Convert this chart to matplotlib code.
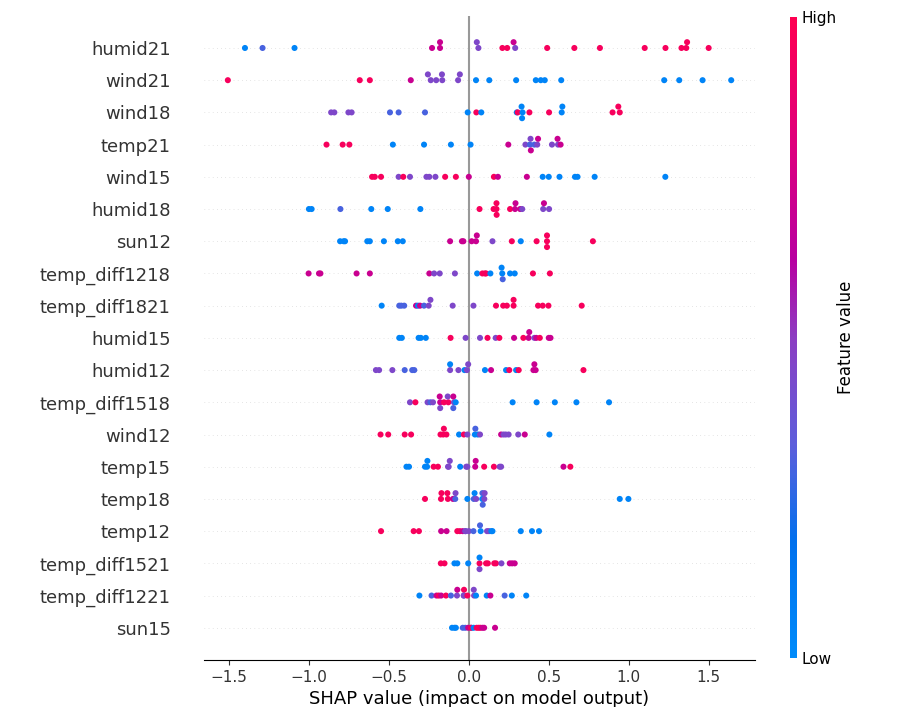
import numpy as np
import matplotlib
matplotlib.use("Agg")
import matplotlib.pyplot as plt
from matplotlib.colors import LinearSegmentedColormap

# feature names, top row first
features = ["humid21", "wind21", "wind18", "temp21", "wind15", "humid18", "sun12",
            "temp_diff1218", "temp_diff1821", "humid15", "humid12", "temp_diff1518",
            "wind12", "temp15", "temp18", "temp12", "temp_diff1521", "temp_diff1221", "sun15"]

# feature value level codes
levels = {"b": 0.05, "B": 0.3, "p": 0.45, "m": 0.7, "r": 0.95}

# SHAP values and colour codes per feature
humid21 = [-1.40, -1.29, -1.09, -0.23, -0.18, -0.18, 0.06, 0.05, 0.21, 0.24, 0.29, 0.28,
           0.49, 0.66, 0.82, 1.10, 1.23, 1.33, 1.36, 1.365, 1.50]
humid21_c = "bBbmmmpprrpmrrrrrrrrr"
wind21 = [-1.507, -0.682, -0.619, -0.363, -0.238, -0.256, -0.204, -0.166, -0.168, -0.067,
          -0.056, 0.045, 0.128, 0.296, 0.419, 0.450, 0.475, 0.578, 1.222, 1.316, 1.462, 1.641]
wind21_c = "rrrmpppppppbbbbbbbbbbb"
wind18 = [-0.861, -0.841, -0.753, -0.733, -0.493, -0.439, -0.274, -0.007, 0.047, 0.078,
          0.300, 0.306, 0.336, 0.330, 0.333, 0.379, 0.502, 0.581, 0.585, 0.899, 0.944, 0.935]
wind18_c = "ppppBBBbrbbrbbbrrbbrrr"
temp21 = [-0.890, -0.789, -0.747, -0.475, -0.280, -0.112, 0.011, 0.247, 0.354, 0.382,
          0.386, 0.388, 0.410, 0.428, 0.433, 0.520, 0.558, 0.555, 0.574]
temp21_c = "rrrbbbbmpBpmBpmppmm"
wind15 = [-0.605, -0.588, -0.549, -0.439, -0.410, -0.368, -0.265, -0.247, -0.209, -0.148,
          -0.081, 0.000, 0.157, 0.182, 0.363, 0.462, 0.500, 0.567, 0.664, 0.680, 0.787, 1.229]
wind15_c = "rrrprpppprrmrmmbbbbbbb"
humid18 = [-1.000, -0.983, -0.803, -0.610, -0.507, -0.303, 0.067, 0.155, 0.173, 0.173,
           0.174, 0.258, 0.289, 0.292, 0.321, 0.334, 0.465, 0.470, 0.502]
humid18_c = "bbBbbbrrrrrrmmmppmp"
sun12 = [-0.805, -0.783, -0.774, -0.635, -0.619, -0.531, -0.444, -0.413, -0.117, -0.043,
         -0.034, 0.018, 0.045, 0.050, 0.148, 0.269, 0.325, 0.424, 0.489, 0.489, 0.489, 0.776]
sun12_c = "bbbbbbbbmmmmmmprbrrrrr"
temp_diff1218 = [-1.002, -0.937, -0.928, -0.702, -0.619, -0.247, -0.217, -0.182, -0.087,
                 0.052, 0.085, 0.101, 0.108, 0.135, 0.209, 0.205, 0.212, 0.258, 0.287,
                 0.401, 0.507]
temp_diff1218_c = "mmmmmmpppbrrrbbbBbbrr"
temp_diff1821 = [-0.545, -0.435, -0.422, -0.404, -0.330, -0.318, -0.305, -0.280, -0.251,
                 -0.240, -0.101, 0.029, 0.170, 0.215, 0.238, 0.280, 0.280, 0.433, 0.462,
                 0.498, 0.706]
temp_diff1821_c = "bBBBmbmBpppprrrrrrrrr"
humid15 = [-0.435, -0.419, -0.314, -0.300, -0.269, -0.114, -0.020, 0.070, 0.117, 0.168,
           0.191, 0.283, 0.341, 0.374, 0.378, 0.410, 0.422, 0.444, 0.500, 0.511]
humid15_c = "bbbbbrpprprmrmmpmrmm"
humid12 = [-0.581, -0.561, -0.478, -0.401, -0.354, -0.341, -0.117, -0.117, -0.065, -0.027,
           -0.012, -0.004, 0.101, 0.139, 0.233, 0.253, 0.296, 0.312, 0.404, 0.410, 0.418,
           0.717]
humid12_c = "pppBBBpbpbppbmbrbrmmmr"
temp_diff1518 = [-0.368, -0.334, -0.258, -0.240, -0.224, -0.179, -0.182, -0.179, -0.155,
                 -0.128, -0.132, -0.093, -0.097, -0.097, -0.082, 0.274, 0.424, 0.538,
                 0.673, 0.877]
temp_diff1518_c = "prpBpmmprrppmBbbbbbb"
wind12 = [-0.552, -0.504, -0.401, -0.361, -0.177, -0.160, -0.156, -0.140, -0.061, -0.031,
          -0.009, 0.038, 0.041, 0.056, 0.070, 0.202, 0.217, 0.231, 0.249, 0.309, 0.350,
          0.504]
wind12_c = "rrrrrrrrbrpbBbpmppppmb"
temp15 = [-0.390, -0.374, -0.274, -0.261, -0.259, -0.220, -0.193, -0.126, -0.130, -0.119,
          -0.054, -0.016, -0.009, 0.040, 0.043, 0.096, 0.157, 0.193, 0.202, 0.592, 0.635]
temp15_c = "bbbbbrrpppbppmmrrppmr"
temp18 = [-0.274, -0.174, -0.171, -0.131, -0.134, -0.099, -0.085, -0.083, -0.009, 0.031,
          0.036, 0.046, 0.084, 0.085, 0.087, 0.097, 0.099, 0.944, 0.998]
temp18_c = "rrrrrmBpbBbpbBBppbb"
temp12 = [-0.549, -0.345, -0.312, -0.173, -0.139, -0.072, -0.056, -0.038, -0.020, -0.022,
          0.000, 0.029, 0.074, 0.070, 0.114, 0.126, 0.141, 0.148, 0.325, 0.395, 0.439]
temp12_c = "rrrmmrrmBppBbBppbbbbb"
temp_diff1521 = [-0.175, -0.152, -0.090, -0.072, -0.004, 0.067, 0.067, 0.067, 0.108, 0.119,
                 0.159, 0.170, 0.204, 0.256, 0.271, 0.287]
temp_diff1521_c = "rrbbbrbprrrrpmmm"
temp_diff1221 = [-0.309, -0.233, -0.202, -0.188, -0.173, -0.143, -0.112, -0.074, -0.072,
                 -0.031, -0.030, -0.032, -0.009, 0.033, 0.031, 0.045, 0.112, 0.135, 0.224,
                 0.269, 0.359]
temp_diff1221_c = "bBmrmrBpmBrprppbbmBbb"
sun15 = [-0.105, -0.090, -0.081, -0.038, -0.022, -0.004, 0.016, 0.013, 0.030, 0.049, 0.061,
         0.072, 0.085, 0.096, 0.164]
sun15_c = "bbbBBmbrbrrrmmm"

rows = [(humid21, humid21_c), (wind21, wind21_c), (wind18, wind18_c), (temp21, temp21_c),
        (wind15, wind15_c), (humid18, humid18_c), (sun12, sun12_c),
        (temp_diff1218, temp_diff1218_c), (temp_diff1821, temp_diff1821_c),
        (humid15, humid15_c), (humid12, humid12_c), (temp_diff1518, temp_diff1518_c),
        (wind12, wind12_c), (temp15, temp15_c), (temp18, temp18_c), (temp12, temp12_c),
        (temp_diff1521, temp_diff1521_c), (temp_diff1221, temp_diff1221_c), (sun15, sun15_c)]

# approximation of shap's red_blue colormap
cmap = LinearSegmentedColormap.from_list("red_blue", [
    (0.0, (0.0, 0.545, 0.98)),
    (0.18, (0.0, 0.44, 0.93)),
    (0.33, (0.36, 0.37, 0.86)),
    (0.5, (0.55, 0.24, 0.76)),
    (0.62, (0.72, 0.0, 0.63)),
    (0.8, (0.87, 0.0, 0.49)),
    (1.0, (1.0, 0.0, 0.32)),
])

fig = plt.figure(figsize=(9.1, 7.07), dpi=100)
ax = fig.add_axes([0.2242, 0.0665, 0.6055, 0.9112])

n = len(features)
row_height = 0.4
for i, (vals, codes) in enumerate(rows):
    pos = n - 1 - i
    shaps = np.array(vals)
    fvals = np.array([levels[c] for c in codes])
    ax.axhline(y=pos, color="#cccccc", lw=0.5, dashes=(1, 5), zorder=-1)
    # beeswarm stacking like shap: bin values and stack points within a bin
    nbins = 100
    quant = np.round(nbins * (shaps - shaps.min()) / (shaps.max() - shaps.min() + 1e-8))
    inds = np.argsort(quant, kind="stable")
    layer = 0
    last_bin = -1
    ys = np.zeros(len(shaps))
    for ind in inds:
        if quant[ind] != last_bin:
            layer = 0
        ys[ind] = np.ceil(layer / 2) * ((layer % 2) * 2 - 1)
        layer += 1
        last_bin = quant[ind]
    ys *= 0.9 * (row_height / np.max(ys + 1))
    ax.scatter(shaps, pos + ys, c=fvals, cmap=cmap, vmin=0, vmax=1, s=19,
               linewidth=0, zorder=3)

ax.axvline(x=0, color="#999999", zorder=-1)
ax.xaxis.set_ticks_position("bottom")
ax.yaxis.set_ticks_position("none")
for s in ["right", "top", "left"]:
    ax.spines[s].set_visible(False)
ax.tick_params(color="#333333", labelcolor="#333333")
ax.set_yticks(range(n))
ax.set_yticklabels(features[::-1], fontsize=13)
ax.tick_params("y", length=0, pad=24)
ax.tick_params("x", labelsize=11)
ax.set_xticks([-1.5, -1.0, -0.5, 0.0, 0.5, 1.0, 1.5])
ax.set_xlim(-1.656, 1.79)
ax.set_ylim(-1, n)
ax.set_xlabel("SHAP value (impact on model output)", fontsize=13)

# colorbar
cax = fig.add_axes([0.868, 0.0693, 0.0077, 0.9067])
sm = plt.cm.ScalarMappable(cmap=cmap)
sm.set_array([0, 1])
cb = fig.colorbar(sm, cax=cax, ticks=[0, 1])
cb.set_ticklabels(["Low", "High"])
cb.set_label("Feature value", size=12, labelpad=0)
cb.ax.tick_params(labelsize=11, length=0)
cb.outline.set_visible(False)

fig.savefig("out.png", dpi=100)
